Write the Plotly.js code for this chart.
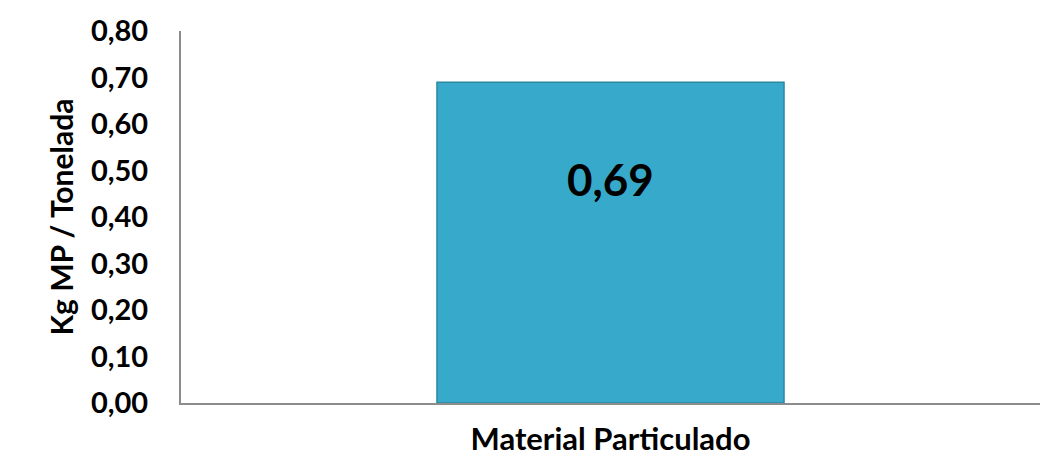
<!DOCTYPE html>
<html><head><meta charset="utf-8">
<script src="https://cdn.plot.ly/plotly-3.0.1.min.js"></script>
<style>html,body{margin:0;padding:0;background:#fff}#chart{width:1044px;height:461px}</style>
</head><body><div id="chart"></div>
<script>
const categories = ["Material Particulado"];
const values = [0.69];
const yTickValues = [0, 0.1, 0.2, 0.3, 0.4, 0.5, 0.6, 0.7, 0.8];

const font = "Lato, 'Open Sans', sans-serif";
const trace = {
  type: "bar",
  x: categories,
  y: values,
  width: 0.404,
  marker: {color: "#37aacb", line: {color: "#2b88a2", width: 1.5}},
  hoverinfo: "none"
};
const layout = {
  width: 1044, height: 461,
  margin: {l: 181, r: 4, t: 31, b: 58},
  paper_bgcolor: "#fff", plot_bgcolor: "#fff",
  separators: ",.",
  showlegend: false,
  font: {family: font, color: "#000"},
  xaxis: {
    range: [-0.5, 0.5],
    showline: true, linecolor: "#8c8c8c", linewidth: 2,
    ticks: "", showgrid: false, zeroline: false,
    tickfont: {family: font, size: 31, color: "#000", weight: "bold"},
    ticklabelstandoff: 8
  },
  yaxis: {
    range: [0, 0.8],
    tickvals: yTickValues, tickformat: ".2f",
    showline: true, linecolor: "#8c8c8c", linewidth: 2,
    ticks: "", showgrid: false, zeroline: false,
    tickfont: {family: font, size: 29, color: "#000", weight: "bold"},
    ticklabelstandoff: 25,
    title: {text: "Kg MP / Tonelada", font: {family: font, size: 30, color: "#000", weight: "bold"}, standoff: 8}
  },
  annotations: [{
    x: categories[0], y: values[0], xref: "x", yref: "y",
    text: values[0].toFixed(2).replace(".", ","),
    showarrow: false, yshift: -97,
    font: {family: font, size: 44, color: "#000", weight: "bold"}
  }]
};
Plotly.newPlot("chart", [trace], layout, {displayModeBar: false, staticPlot: true});
</script></body></html>
